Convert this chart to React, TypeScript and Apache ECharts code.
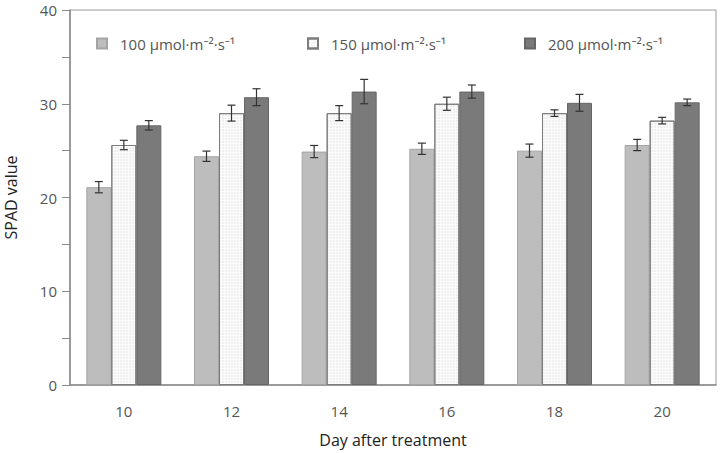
import React, { useEffect, useRef } from "react";
import * as echarts from "echarts";

const categories = ["10", "12", "14", "16", "18", "20"];
const seriesNames = ["100 μmol·m⁻²·s⁻¹", "150 μmol·m⁻²·s⁻¹", "200 μmol·m⁻²·s⁻¹"];
const values100 = [21.1, 24.4, 24.9, 25.2, 25.0, 25.6];
const values150 = [25.6, 29.0, 29.0, 30.0, 29.0, 28.2];
const values200 = [27.7, 30.7, 31.3, 31.3, 30.1, 30.15];
const err100 = [0.6, 0.55, 0.65, 0.6, 0.7, 0.6];
const err150 = [0.5, 0.85, 0.8, 0.7, 0.35, 0.35];
const err200 = [0.5, 0.9, 1.3, 0.7, 0.9, 0.35];

const FONT = "'Open Sans', 'Noto Sans', sans-serif";
const BAR_W = 25;

export default function App() {
  const ref = useRef<HTMLDivElement>(null);
  useEffect(() => {
    if (!ref.current) return;
    const chart = echarts.init(ref.current, null, { renderer: "svg" });
    const values = [values100, values150, values200];
    const errs = [err100, err150, err200];
    const fills = ["#bdbdbd", "#fcfcfc", "#7a7a7a"];
    const borders = ["#a4a4a4", "#7c7c7c", "#666666"];
    const offsets = [-BAR_W, 0, BAR_W];

    const barSeries = values.map((v, i) => ({
      name: seriesNames[i],
      type: "bar",
      data: v,
      barWidth: BAR_W,
      barGap: "0%",
      itemStyle: {
        color: fills[i],
        borderColor: borders[i],
        borderWidth: 1,
        decal:
          i === 1
            ? {
                symbol: "circle",
                symbolSize: 0.6,
                color: "rgba(0,0,0,0.14)",
                dashArrayX: [2, 1],
                dashArrayY: [2, 1],
                rotation: 0,
              }
            : "none",
      },
    }));

    const errSeries = values.map((v, i) => ({
      type: "custom",
      name: "err" + i,
      data: v.map((val, j) => [j, val, errs[i][j]]),
      z: 10,
      renderItem: (params: any, api: any) => {
        const idx = api.value(0);
        const val = api.value(1);
        const e = api.value(2);
        const hi = api.coord([idx, val + e]);
        const lo = api.coord([idx, val - e]);
        const x = hi[0] + offsets[i];
        const cap = 4;
        const style = { stroke: "#333333", lineWidth: 1.2 };
        return {
          type: "group",
          children: [
            { type: "line", shape: { x1: x, y1: hi[1], x2: x, y2: lo[1] }, style },
            { type: "line", shape: { x1: x - cap, y1: hi[1], x2: x + cap, y2: hi[1] }, style },
            { type: "line", shape: { x1: x - cap, y1: lo[1], x2: x + cap, y2: lo[1] }, style },
          ],
        };
      },
    }));

    const legendBase = {
      itemWidth: 10,
      itemHeight: 10,
      icon: "rect",
      textStyle: { fontFamily: FONT, fontSize: 15, color: "#555", padding: [0, 0, 0, 8] },
      top: 31,
    };

    chart.setOption({
      animation: false,
      grid: {
        left: 70,
        right: 11,
        top: 10,
        bottom: 68,
        show: true,
        borderColor: "#999",
        borderWidth: 1,
        outerBoundsMode: "none",
      },
      legend: [
        { ...legendBase, left: 91, data: [seriesNames[0]] },
        { ...legendBase, left: 302, data: [seriesNames[1]] },
        { ...legendBase, left: 519, data: [seriesNames[2]] },
      ],
      xAxis: {
        type: "category",
        data: categories,
        name: "Day after treatment",
        nameLocation: "middle",
        nameGap: 47,
        nameTextStyle: { fontFamily: FONT, fontSize: 16, color: "#222" },
        axisLine: { lineStyle: { color: "#8a8a8a", width: 1.5 } },
        axisTick: { alignWithLabel: true, length: 7, lineStyle: { color: "#8a8a8a" } },
        axisLabel: { fontFamily: FONT, fontSize: 15, color: "#555", margin: 18 },
      },
      yAxis: {
        type: "value",
        min: 0,
        max: 40,
        interval: 5,
        name: "SPAD value",
        nameLocation: "middle",
        nameGap: 51,
        nameTextStyle: { fontFamily: FONT, fontSize: 16, color: "#222" },
        axisLine: { show: true, lineStyle: { color: "#8a8a8a", width: 1.5 } },
        axisTick: { show: true, length: 8, lineStyle: { color: "#8a8a8a" } },
        axisLabel: {
          fontFamily: FONT,
          fontSize: 15,
          color: "#555",
          margin: 13,
          formatter: (v: number) => (v % 10 === 0 ? String(v) : ""),
        },
        splitLine: { show: false },
      },
      series: [...barSeries, ...errSeries],
    });
    return () => chart.dispose();
  }, []);
  return <div ref={ref} style={{ width: 727, height: 453, position: "absolute", left: 0, top: 0 }} />;
}
